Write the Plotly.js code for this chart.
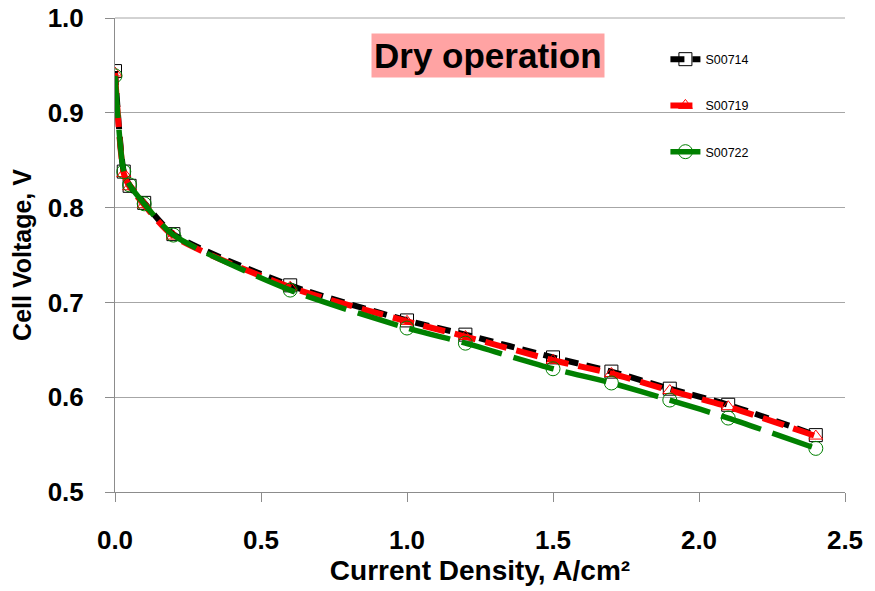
<!DOCTYPE html>
<html>
<head>
<meta charset="utf-8">
<script src="https://cdn.plot.ly/plotly-3.0.1.min.js"></script>
<style>
  html, body { margin: 0; padding: 0; background: #fff; }
  #chart { width: 875px; height: 591px; }
</style>
</head>
<body>
<div id="chart"></div>
<script>
// Polarization curves: current density (A/cm²) vs. cell voltage (V)
const currentDensity = [0, 0.03, 0.05, 0.1, 0.2, 0.6, 1.0, 1.2, 1.5, 1.7, 1.9, 2.1, 2.4];
const vS00714 = [0.944, 0.838, 0.823, 0.805, 0.772, 0.718, 0.681, 0.666, 0.642, 0.627, 0.609, 0.592, 0.560];
const vS00719 = [0.942, 0.836, 0.822, 0.803, 0.770, 0.716, 0.680, 0.664, 0.639, 0.625, 0.607, 0.590, 0.559];
const vS00722 = [0.939, 0.838, 0.824, 0.804, 0.771, 0.713, 0.673, 0.657, 0.630, 0.615, 0.597, 0.578, 0.546];
const seriesNames = ["S00714", "S00719", "S00722"];
const xTickVals = [0, 0.5, 1.0, 1.5, 2.0, 2.5];
const xTickText = ["0.0", "0.5", "1.0", "1.5", "2.0", "2.5"];
const yTickVals = [0.5, 0.6, 0.7, 0.8, 0.9, 1.0];
const yTickText = ["0.5", "0.6", "0.7", "0.8", "0.9", "1.0"];

const font = "Liberation Sans, Arial, sans-serif";

function series(name, y, color, dash, width, symbol, size, group) {
  return {
    x: currentDensity, y: y, name: name, legendgroup: group,
    type: "scatter", mode: "lines+markers",
    line: { color: color, width: width, dash: dash, shape: "spline", smoothing: 0.7 },
    marker: { symbol: symbol, size: size, color: color, line: { color: color, width: 1 } }
  };
}

const data = [
  series(seriesNames[0], vS00714, "#000000", "14px,8px", 6, "square-open", 13, "a"),
  series(seriesNames[1], vS00719, "#ff0000", "22px,10px", 6, "triangle-up-open", 12, "b"),
  series(seriesNames[2], vS00722, "#008000", "42px,12px", 5.5, "circle-open", 14, "c")
];

const layout = {
  width: 875, height: 591,
  margin: { l: 114.5, r: 30, t: 18, b: 99, pad: 0 },
  paper_bgcolor: "#ffffff", plot_bgcolor: "#ffffff",
  showlegend: true,
  legend: {
    x: 0.754, y: 0.944, xanchor: "left", yanchor: "top",
    traceorder: "grouped", tracegroupgap: 27,
    font: { family: font, size: 12.5, color: "#000" },
    bgcolor: "rgba(0,0,0,0)", itemwidth: 30
  },
  xaxis: {
    range: [0, 2.5], tickvals: xTickVals, ticktext: xTickText,
    showgrid: false, zeroline: false,
    showline: true, linecolor: "#8c8c8c", linewidth: 1,
    ticks: "outside", ticklen: 9, tickcolor: "#8c8c8c",
    ticklabelstandoff: 16,
    tickfont: { family: font, size: 26, color: "#000", weight: "bold" },
    title: { text: "Current Density, A/cm²", font: { family: font, size: 28, color: "#000", weight: "bold" }, standoff: 1 }
  },
  yaxis: {
    range: [0.5, 1.0], tickvals: yTickVals, ticktext: yTickText,
    showgrid: true, gridcolor: "#a6a6a6", gridwidth: 1, zeroline: false,
    showline: true, linecolor: "#8c8c8c", linewidth: 1,
    ticks: "outside", ticklen: 9, tickcolor: "#8c8c8c",
    ticklabelstandoff: 16,
    tickfont: { family: font, size: 26, color: "#000", weight: "bold" },
    title: { text: "Cell Voltage, V", font: { family: font, size: 25, color: "#000", weight: "bold" }, standoff: 8 }
  },
  shapes: [
    { type: "line", xref: "paper", yref: "paper", x0: 0, x1: 1, y0: 1, y1: 1, line: { color: "#a6a6a6", width: 1 } }
  ],
  annotations: [
    {
      xref: "paper", yref: "paper", x: 0.511, y: 0.921, xanchor: "center", yanchor: "middle",
      text: "<b>Dry operation</b>", showarrow: false,
      font: { family: font, size: 35, color: "#000" },
      bgcolor: "#ffa3a3", borderpad: 2
    }
  ]
};

Plotly.newPlot("chart", data, layout, { displayModeBar: false, staticPlot: true });
</script>
</body>
</html>
